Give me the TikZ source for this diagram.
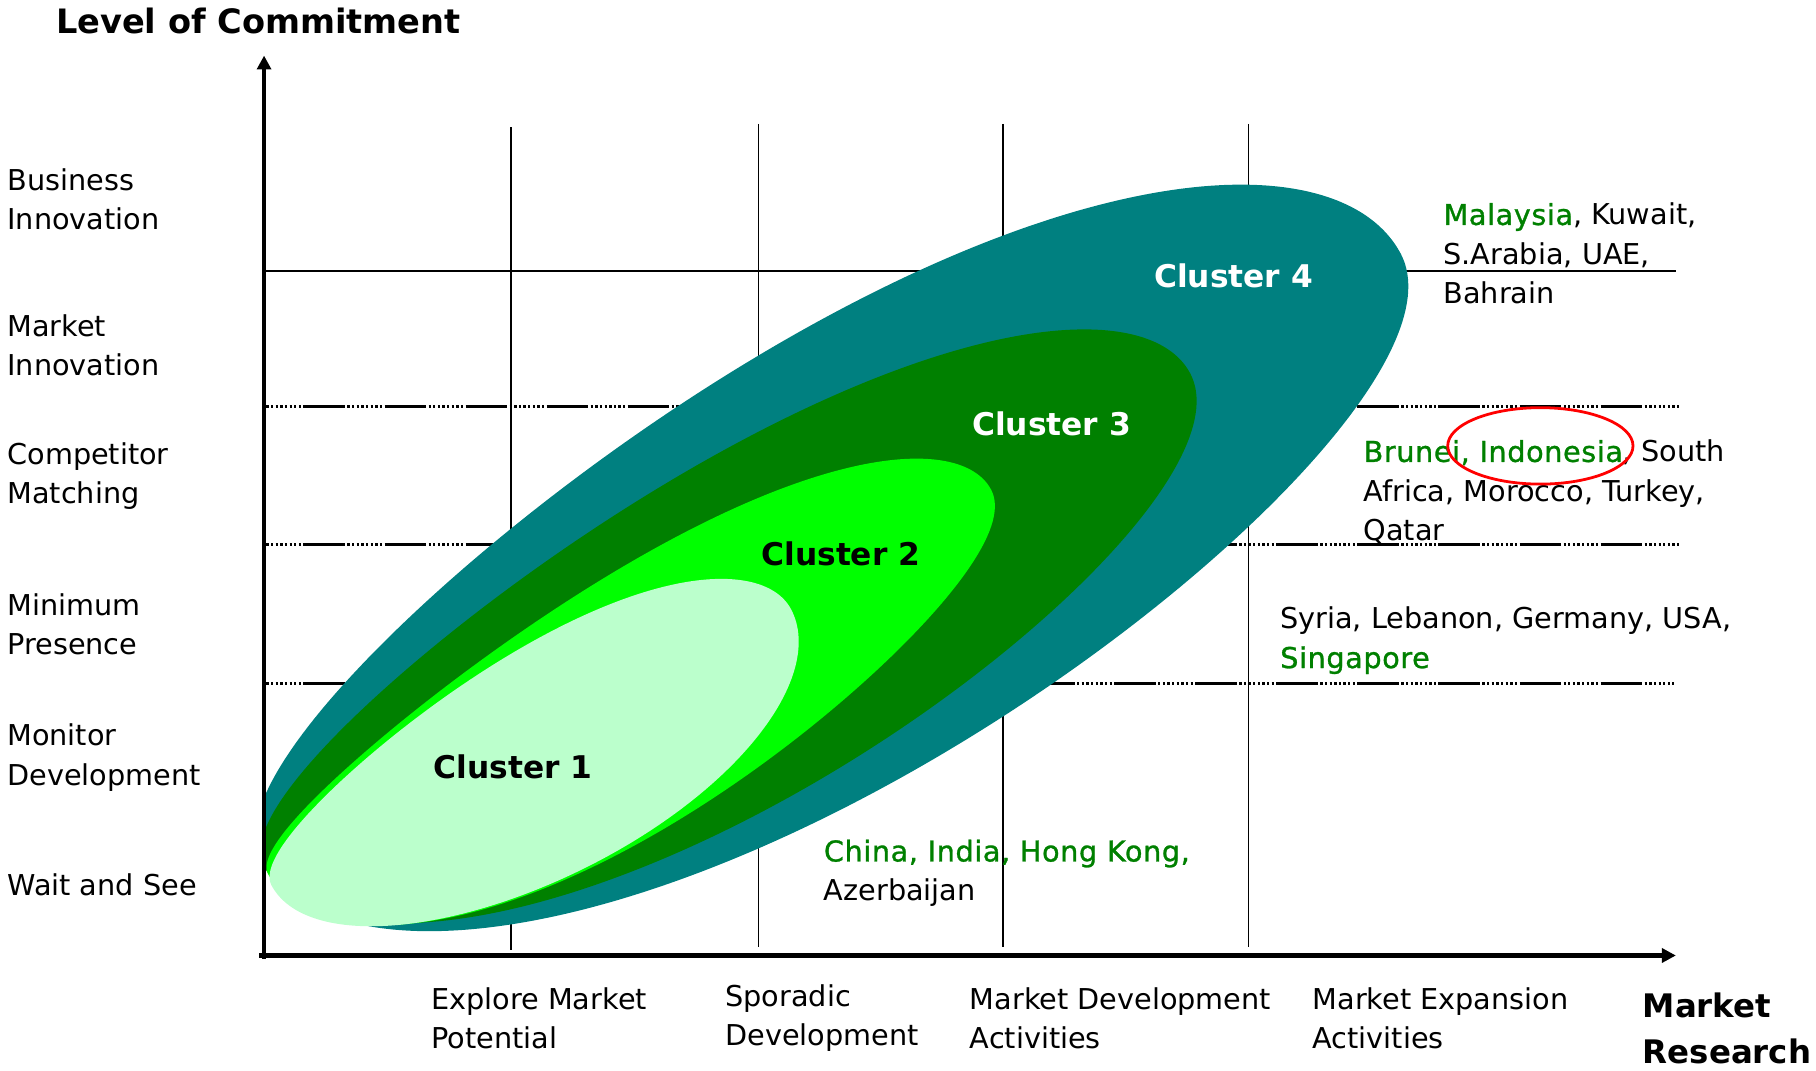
\documentclass[tikz,border=0pt]{standalone}
\usepackage{fontspec}
\setmainfont{DejaVu Sans}
\newfontfamily\grnfont{DejaVu Sans}[FakeBold=1,LetterSpace=2]
\usetikzlibrary{arrows.meta}
\definecolor{tealc}{RGB}{0,128,128}
\definecolor{dgreen}{RGB}{0,128,0}
\definecolor{bgreen}{RGB}{0,255,0}
\definecolor{mintc}{RGB}{187,255,204}
\definecolor{txtgreen}{RGB}{0,128,0}
\newcommand{\grn}[1]{{\color{txtgreen}\grnfont #1}}
% egg-shaped blob: #1 colour, #2 centre, #3 a, #4 b upper-left, #5 k upper-left, #6 b lower-right, #7 k lower-right
\newcommand{\eggblob}[7]{%
  \begin{scope}[shift={#2}, rotate=28]
    \fill[#1]
      plot[domain=0:180, samples=121, smooth, variable=\t]
        ({#3*cos(\t)}, {#6*sin(\t)*(1+(#7)*cos(\t))})
      -- plot[domain=180:360, samples=121, smooth, variable=\t]
        ({#3*cos(\t)}, {#4*sin(\t)*(1+(#5)*cos(\t))})
      -- cycle;
  \end{scope}}
\begin{document}
\begin{tikzpicture}[x=0.5pt,y=-0.5pt,
  lbl/.style={inner sep=0pt, anchor=west, align=left, font=\fontsize{12.4}{17}\selectfont},
  clus/.style={inner sep=0pt, font=\bfseries\fontsize{13.5}{16}\selectfont},
  thinline/.style={line width=0.7pt},
  dashdotline/.style={line width=1.2pt, dash pattern=on 1pt off 1pt on 1pt off 1pt on 1pt off 1pt on 1pt off 1pt on 1pt off 1pt on 1pt off 1pt on 1pt off 1pt on 1pt off 1pt on 18pt off 1pt},
  axisline/.style={line width=1.8pt, -{Triangle[length=6pt,width=6pt]}}]
\useasboundingbox (0,0) rectangle (1568,924);

% grid lines
\draw[thinline] (441,110) -- (441,820);
\draw[thinline] (655,107) -- (655,818);
\draw[thinline] (866,107) -- (866,818);
\draw[thinline] (1078,107) -- (1078,818);
\draw[thinline] (228,234) -- (1447,234);
\draw[dashdotline] (230,351) -- (1452,351);
\draw[dashdotline] (230,470) -- (1452,470);
\draw[dashdotline] (230,590) -- (1445,590);

% clusters
\begin{scope}
  \clip (229,0) rectangle (1568,924);
  \eggblob{tealc}{(717.1,480.6)}{557.5}{181}{0.2}{196}{-0.12}
  \eggblob{dgreen}{(627.6,534.9)}{453}{128}{0.2}{160}{-0.105}
  \eggblob{bgreen}{(543.6,588.7)}{353.5}{88}{0.3}{124}{-0.22}
  \eggblob{mintc}{(458.7,645.2)}{254}{78}{0.25}{114}{0.03}
\end{scope}

% cluster labels
\node[clus, text=white] (c4) at (1065,238) {Cluster 4};
\node[clus, text=white] (c3) at (908,366) {Cluster 3};
\node[clus] (c2) at (726,478) {Cluster 2};
\node[clus] (c1) at (443,662) {Cluster 1};

% axes
\coordinate (yb) at (228,828);
\coordinate (yt) at (228,48);
\coordinate (xl) at (224,825);
\coordinate (xr) at (1447,825);
\draw[axisline] (yb) -- (yt);
\draw[axisline] (xl) -- (xr);

% title and axis names
\node[inner sep=0pt, anchor=west, font=\bfseries\fontsize{14.5}{18}\selectfont] (title) at (48,18) {Level of Commitment};
\node[inner sep=0pt, anchor=west, align=left, font=\bfseries\fontsize{14}{19.5}\selectfont] (xname) at (1418,888) {Market\\Research};

% y labels
\node[lbl] (l1) at (6,172) {Business\\Innovation};
\node[lbl] (l2) at (6,298) {Market\\Innovation};
\node[lbl] (l3) at (6,411) {Competitor\\Matching};
\node[lbl] (l4) at (6,539) {Minimum\\Presence};
\node[lbl] (l5) at (6,654) {Monitor\\Development};
\node[lbl] (l6) at (6,764) {Wait and See};

% x labels
\node[lbl] (b1) at (372,879) {Explore Market\\Potential};
\node[lbl] (b2) at (626,879) {Sporadic\\Development};
\node[lbl] (b3) at (837,879) {Market Development\\Activities};
\node[lbl] (b4) at (1133,879) {Market Expansion\\Activities};

% country lists
\node[lbl] (k4) at (1246,219) {\grn{Malaysia}, Kuwait,\\S.Arabia, UAE,\\Bahrain};
\node[lbl] (k3) at (1177,425) {\grn{Brunei, Indonesia}, South\\Africa, Morocco, Turkey,\\Qatar};
\node[lbl] (k2) at (1105,553) {Syria, Lebanon, Germany, USA,\\\grn{Singapore}};
\node[lbl] (k1) at (711,754) {\grn{China, India, Hong Kong,}\\Azerbaijan};

% highlight
\draw[red, line width=1.2pt] (1330,385) ellipse [x radius=80, y radius=33];
\end{tikzpicture}
\end{document}
